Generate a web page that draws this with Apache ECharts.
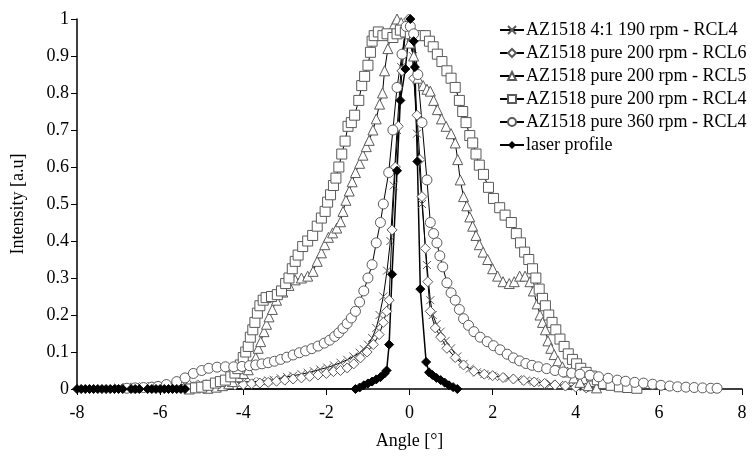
<!DOCTYPE html>
<html>
<head>
<meta charset="utf-8">
<script src="https://cdn.jsdelivr.net/npm/echarts@6/dist/echarts.min.js"></script>
<style>
  html, body { margin: 0; padding: 0; background: #fff; }
  #chart { width: 756px; height: 465px; }
</style>
</head>
<body>
<div id="chart"></div>
<script>
// [angle in degrees, intensity a.u]
const az4to1_190_rcl4 = [
  [-7.0,0.004],[-6.8,0.005],[-6.6,0.006],[-6.4,0.007],[-6.2,0.008],[-6.0,0.009],[-5.8,0.01],[-5.6,0.011],
  [-5.4,0.012],[-5.2,0.013],[-5.0,0.014],[-4.8,0.015],[-4.6,0.016],[-4.4,0.017],[-4.2,0.018],[-4.0,0.019],
  [-3.8,0.02],[-3.58,0.021],[-3.4,0.023],[-3.27,0.025],[-3.1,0.029],[-2.95,0.033],[-2.8,0.036],[-2.6,0.04],
  [-2.45,0.044],[-2.3,0.048],[-2.15,0.053],[-1.98,0.058],[-1.82,0.064],[-1.66,0.071],[-1.5,0.079],[-1.35,0.088],
  [-1.2,0.098],[-1.1,0.108],[-1.0,0.12],[-0.9,0.138],[-0.8,0.165],[-0.72,0.2],[-0.63,0.25],[-0.54,0.32],
  [-0.46,0.4],[-0.38,0.55],[-0.3,0.7],[-0.2,0.87],[-0.1,0.97],[0.0,0.99],[0.08,0.9],[0.18,0.69],
  [0.3,0.5],[0.42,0.335],[0.5,0.24],[0.56,0.2],[0.65,0.175],[0.75,0.155],[0.87,0.13],[1.0,0.11],
  [1.15,0.088],[1.3,0.068],[1.45,0.055],[1.62,0.045],[1.8,0.04],[2.0,0.036],[2.2,0.032],[2.4,0.029],
  [2.6,0.026],[2.8,0.023],[3.0,0.02],[3.2,0.017],[3.4,0.014],[3.6,0.011],[3.8,0.009],[4.0,0.007],
  [4.2,0.005],[4.4,0.003]
];

const pure200_rcl6 = [
  [-5.6,0.004],[-5.4,0.005],[-5.2,0.006],[-5.0,0.007],[-4.8,0.008],[-4.6,0.009],[-4.4,0.01],[-4.2,0.011],
  [-4.0,0.012],[-3.8,0.014],[-3.6,0.016],[-3.4,0.018],[-3.2,0.021],[-3.0,0.024],[-2.8,0.027],[-2.6,0.03],
  [-2.4,0.034],[-2.2,0.038],[-2.0,0.042],[-1.83,0.047],[-1.66,0.05],[-1.5,0.057],[-1.34,0.068],[-1.18,0.084],
  [-1.02,0.1],[-0.87,0.12],[-0.73,0.147],[-0.63,0.18],[-0.55,0.21],[-0.49,0.24],[-0.42,0.43],[-0.34,0.6],
  [-0.27,0.71],[-0.18,0.86],[-0.1,0.96],[-0.02,1.0],[0.06,0.94],[0.1,0.84],[0.18,0.74],[0.25,0.62],
  [0.3,0.52],[0.38,0.38],[0.44,0.29],[0.5,0.21],[0.62,0.165],[0.75,0.14],[0.9,0.11],[1.1,0.085],
  [1.3,0.065],[1.55,0.048],[1.8,0.04],[2.0,0.036],[2.25,0.031],[2.5,0.027],[2.75,0.023],[3.0,0.019],
  [3.25,0.015],[3.5,0.011],[3.75,0.008],[4.0,0.005],[4.25,0.003]
];

const pure200_rcl5 = [
  [-4.85,0.002],[-4.65,0.005],[-4.5,0.009],[-4.35,0.014],[-4.26,0.02],[-4.12,0.033],[-4.0,0.042],[-3.88,0.052],
  [-3.78,0.068],[-3.7,0.085],[-3.64,0.11],[-3.58,0.128],[-3.5,0.155],[-3.44,0.175],[-3.38,0.195],[-3.3,0.215],
  [-3.2,0.24],[-3.05,0.262],[-2.9,0.28],[-2.75,0.295],[-2.6,0.3],[-2.45,0.305],[-2.32,0.318],[-2.22,0.345],
  [-2.12,0.368],[-2.04,0.39],[-1.95,0.41],[-1.85,0.422],[-1.75,0.435],[-1.66,0.452],[-1.6,0.48],[-1.53,0.51],
  [-1.45,0.535],[-1.38,0.56],[-1.3,0.585],[-1.2,0.61],[-1.12,0.632],[-1.04,0.655],[-0.97,0.672],[-0.88,0.7],
  [-0.8,0.73],[-0.72,0.77],[-0.65,0.8],[-0.6,0.86],[-0.52,0.92],[-0.44,0.96],[-0.37,0.985],[-0.3,1.0],
  [-0.2,0.99],[-0.1,0.965],[0.0,0.935],[0.1,0.9],[0.2,0.84],[0.33,0.82],[0.42,0.81],[0.5,0.805],
  [0.58,0.78],[0.67,0.755],[0.77,0.73],[0.88,0.71],[1.0,0.69],[1.1,0.665],[1.16,0.62],[1.22,0.565],
  [1.3,0.52],[1.38,0.495],[1.45,0.465],[1.52,0.44],[1.6,0.415],[1.68,0.39],[1.77,0.37],[1.88,0.35],
  [2.0,0.325],[2.12,0.305],[2.25,0.29],[2.4,0.285],[2.52,0.29],[2.65,0.305],[2.78,0.305],[2.9,0.29],
  [2.98,0.265],[3.07,0.23],[3.14,0.2],[3.2,0.18],[3.27,0.16],[3.33,0.13],[3.4,0.11],[3.48,0.093],
  [3.57,0.076],[3.68,0.06],[3.8,0.046],[3.95,0.03],[4.1,0.018],[4.3,0.009],[4.5,0.003]
];

const pure200_rcl4 = [
  [-5.3,0.0],[-5.15,0.003],[-5.0,0.005],[-4.85,0.01],[-4.67,0.016],[-4.55,0.02],[-4.43,0.024],[-4.3,0.033],
  [-4.2,0.043],[-4.13,0.055],[-4.07,0.065],[-4.0,0.085],[-3.94,0.1],[-3.88,0.115],[-3.83,0.14],[-3.77,0.16],
  [-3.72,0.18],[-3.66,0.205],[-3.6,0.225],[-3.52,0.24],[-3.45,0.247],[-3.32,0.25],[-3.18,0.255],[-3.08,0.265],
  [-2.98,0.285],[-2.9,0.3],[-2.82,0.325],[-2.75,0.345],[-2.68,0.362],[-2.57,0.385],[-2.45,0.4],[-2.33,0.415],
  [-2.22,0.44],[-2.12,0.462],[-2.03,0.48],[-1.97,0.505],[-1.9,0.525],[-1.83,0.55],[-1.77,0.57],[-1.7,0.6],
  [-1.63,0.635],[-1.55,0.67],[-1.48,0.71],[-1.4,0.72],[-1.32,0.74],[-1.22,0.78],[-1.15,0.82],[-1.08,0.845],
  [-1.0,0.875],[-0.94,0.91],[-0.9,0.94],[-0.85,0.955],[-0.75,0.965],[-0.64,0.955],[-0.54,0.96],[-0.4,0.95],
  [-0.3,0.96],[-0.22,0.97],[-0.1,0.965],[0.02,0.96],[0.12,0.955],[0.25,0.955],[0.38,0.955],[0.48,0.94],
  [0.57,0.925],[0.67,0.905],[0.78,0.885],[0.9,0.86],[1.0,0.84],[1.1,0.815],[1.2,0.78],[1.28,0.75],
  [1.36,0.72],[1.45,0.685],[1.52,0.665],[1.6,0.635],[1.68,0.605],[1.78,0.58],[1.9,0.545],[2.02,0.515],
  [2.17,0.49],[2.3,0.47],[2.45,0.45],[2.57,0.42],[2.67,0.395],[2.77,0.37],[2.87,0.35],[2.96,0.325],
  [3.04,0.3],[3.12,0.27],[3.2,0.245],[3.27,0.225],[3.35,0.2],[3.43,0.18],[3.52,0.16],[3.62,0.135],
  [3.72,0.115],[3.82,0.095],[3.92,0.08],[4.02,0.068],[4.12,0.056],[4.25,0.045],[4.38,0.035],[4.52,0.025],
  [4.67,0.015],[4.85,0.01],[5.05,0.006],[5.25,0.004],[5.47,0.002]
];

const pure360_rcl4 = [
  [-6.8,0.002],[-6.6,0.003],[-6.4,0.004],[-6.2,0.005],[-6.05,0.007],[-5.85,0.012],[-5.6,0.02],[-5.4,0.03],
  [-5.2,0.042],[-5.0,0.05],[-4.83,0.056],[-4.63,0.059],[-4.43,0.06],[-4.23,0.06],[-4.03,0.061],[-3.85,0.063],
  [-3.7,0.065],[-3.55,0.068],[-3.4,0.071],[-3.25,0.075],[-3.1,0.08],[-2.95,0.086],[-2.8,0.092],[-2.65,0.098],
  [-2.5,0.103],[-2.35,0.109],[-2.2,0.116],[-2.05,0.124],[-1.92,0.132],[-1.8,0.142],[-1.7,0.152],[-1.6,0.164],
  [-1.5,0.177],[-1.4,0.192],[-1.3,0.21],[-1.2,0.235],[-1.1,0.265],[-1.0,0.3],[-0.9,0.336],[-0.8,0.395],
  [-0.7,0.45],[-0.63,0.5],[-0.5,0.585],[-0.4,0.7],[-0.3,0.815],[-0.18,0.905],[-0.08,0.98],[0.02,0.98],
  [0.1,0.96],[0.2,0.85],[0.3,0.72],[0.42,0.565],[0.5,0.45],[0.58,0.42],[0.66,0.395],[0.73,0.36],
  [0.8,0.33],[0.9,0.287],[1.0,0.26],[1.1,0.24],[1.2,0.215],[1.3,0.19],[1.42,0.172],[1.55,0.155],
  [1.7,0.14],[1.87,0.128],[2.02,0.117],[2.18,0.106],[2.35,0.094],[2.5,0.084],[2.65,0.076],[2.8,0.069],
  [2.95,0.064],[3.1,0.06],[3.3,0.055],[3.5,0.05],[3.7,0.046],[3.9,0.043],[4.1,0.04],[4.34,0.037],
  [4.55,0.033],[4.78,0.029],[5.0,0.024],[5.2,0.021],[5.42,0.018],[5.63,0.016],[5.85,0.013],[6.05,0.01],
  [6.26,0.008],[6.45,0.006],[6.65,0.005],[6.85,0.004],[7.05,0.003],[7.25,0.002],[7.4,0.002]
];

const laserProfile = [
  [-8.0,0],[-7.9,0],[-7.8,0],[-7.7,0],[-7.6,0],[-7.5,0],[-7.4,0],[-7.3,0],[-7.2,0],[-7.1,0],
  [-7.0,0],[-6.9,0],[-6.7,0],[-6.6,0],[-6.5,0],[-6.3,0],[-6.2,0],[-6.1,0],[-6.0,0],[-5.9,0],
  [-5.8,0],[-5.7,0],[-5.6,0],[-5.5,0],[-5.4,0],
  [-1.3,0],[-1.2,0.004],[-1.1,0.01],[-1.0,0.015],[-0.9,0.02],[-0.8,0.026],[-0.7,0.032],[-0.6,0.042],
  [-0.55,0.05],[-0.49,0.12],[-0.42,0.31],[-0.3,0.59],[-0.22,0.78],[-0.1,0.865],[0.02,1.0],[0.1,0.94],
  [0.13,0.87],[0.19,0.615],[0.26,0.27],[0.4,0.073],[0.47,0.045],[0.55,0.038],[0.65,0.03],[0.75,0.024],
  [0.85,0.017],[0.95,0.01],[1.05,0.005],[1.15,0]
];

const seriesNames = [
  'AZ1518 4:1 190 rpm - RCL4',
  'AZ1518 pure 200 rpm - RCL6',
  'AZ1518 pure 200 rpm - RCL5',
  'AZ1518 pure 200 rpm - RCL4',
  'AZ1518 pure 360 rpm - RCL4',
  'laser profile'
];

const xTicks = { min: -8, max: 8, step: 2 };
const yTicks = { min: 0, max: 1, step: 0.1 };

const font = 'Liberation Serif, Times New Roman, serif';
const markerEdge = '#5a5a5a';
const crossPath = 'path://M0,0 L10,10 M10,0 L0,10';

function hollow(name, data, symbol, size) {
  return {
    name,
    type: 'line',
    data,
    symbol,
    symbolSize: size,
    showAllSymbol: true,
    lineStyle: { color: '#000', width: 1 },
    itemStyle: { color: '#fff', borderColor: markerEdge, borderWidth: 1 },
    emphasis: { disabled: true }
  };
}

const chart = echarts.init(document.getElementById('chart'), null, { renderer: 'canvas' });

chart.setOption({
  animation: false,
  backgroundColor: '#fff',
  textStyle: { fontFamily: font },
  grid: { left: 77, right: 14, top: 19, bottom: 76 },
  legend: {
    orient: 'vertical',
    left: 494,
    top: 16,
    itemGap: 5,
    itemWidth: 24,
    itemHeight: 10,
    textStyle: { fontFamily: font, fontSize: 18, color: '#000', padding: [0, 0, 0, -3] },
    data: seriesNames
  },
  xAxis: {
    type: 'value',
    min: xTicks.min,
    max: xTicks.max,
    interval: xTicks.step,
    name: 'Angle [°]',
    nameLocation: 'middle',
    nameGap: 43,
    nameTextStyle: { fontFamily: font, fontSize: 18, color: '#000' },
    axisLine: { onZero: false, lineStyle: { color: '#000', width: 1.5 } },
    axisTick: { inside: false, length: 6, lineStyle: { color: '#000' } },
    axisLabel: { fontFamily: font, fontSize: 18, color: '#000', margin: 15 },
    splitLine: { show: false }
  },
  yAxis: {
    type: 'value',
    min: yTicks.min,
    max: yTicks.max,
    interval: yTicks.step,
    name: 'Intensity [a.u]',
    nameLocation: 'middle',
    nameGap: 50,
    nameTextStyle: { fontFamily: font, fontSize: 18, color: '#000' },
    axisLine: { show: true, onZero: false, lineStyle: { color: '#000', width: 1.5 } },
    axisTick: { show: true, length: 6, lineStyle: { color: '#000' } },
    axisLabel: {
      fontFamily: font, fontSize: 18, color: '#000', margin: 8,
      formatter: v => String(+v.toFixed(1))
    },
    splitLine: { show: false }
  },
  series: [
    hollow(seriesNames[0], az4to1_190_rcl4, crossPath, 8),
    hollow(seriesNames[1], pure200_rcl6, 'diamond', 10),
    hollow(seriesNames[2], pure200_rcl5, 'triangle', 10),
    hollow(seriesNames[3], pure200_rcl4, 'rect', 10),
    hollow(seriesNames[4], pure360_rcl4, 'circle', 10),
    {
      name: seriesNames[5],
      type: 'line',
      data: laserProfile,
      symbol: 'diamond',
      symbolSize: 9,
      showAllSymbol: true,
      lineStyle: { color: '#000', width: 1.5 },
      itemStyle: { color: '#000', borderColor: '#000' },
      emphasis: { disabled: true }
    }
  ]
});
</script>
</body>
</html>
